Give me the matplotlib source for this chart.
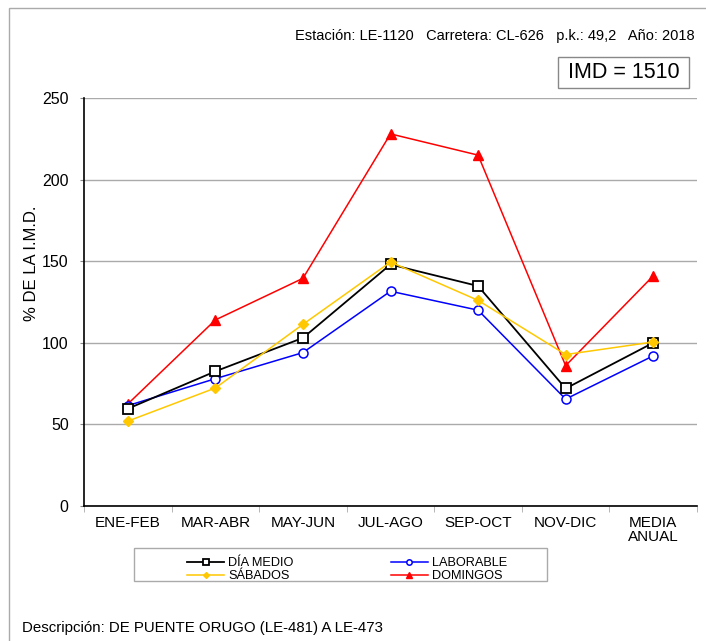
import matplotlib
matplotlib.use('Agg')
import matplotlib.pyplot as plt
from matplotlib.patches import Rectangle

plt.rcParams['font.family'] = ['Liberation Sans', 'DejaVu Sans']

categorias = ['ENE-FEB', 'MAR-ABR', 'MAY-JUN', 'JUL-AGO', 'SEP-OCT', 'NOV-DIC', 'MEDIA\nANUAL']
dia_medio = [59.6, 82.5, 103, 148, 134.8, 72, 100]
laborable = [61.5, 78, 94, 131.6, 120, 65.5, 92]
sabados = [52, 72.3, 111.3, 149.5, 126, 92.8, 100.5]
domingos = [62.5, 114, 139.5, 228, 215, 86, 141]

W, H = 706, 641
fig = plt.figure(figsize=(W / 100, H / 100), dpi=100)

# marco gris exterior
fig.patches.append(Rectangle((9 / W, -0.01), 1.0, 1 - 8 / H + 0.01, transform=fig.transFigure,
                             fill=False, ec='#aaaaaa', lw=1))

ax = fig.add_axes([84 / W, 1 - 506 / H, (697 - 84) / W, (506 - 98) / H])

x = list(range(len(categorias)))
l1, = ax.plot(x, dia_medio, color='black', marker='s', ms=6.5, mfc='white', mec='black', mew=1.3,
              lw=1.3, label='DÍA MEDIO', zorder=4)
l2, = ax.plot(x, laborable, color='blue', marker='o', ms=6.5, mfc='white', mec='blue', mew=1.1,
              lw=1.1, label='LABORABLE', zorder=3)
l3, = ax.plot(x, sabados, color='#FFC800', marker='D', ms=5, mfc='#FFC800', mec='#FFC800', lw=1.1,
              label='SÁBADOS', zorder=5)
l4, = ax.plot(x, domingos, color='red', marker='^', ms=7.5, mfc='red', mec='red', lw=1.1,
              label='DOMINGOS', zorder=2)

ax.set_xlim(-0.5, len(categorias) - 0.5)
ax.set_ylim(0, 250)
ax.set_yticks([0, 50, 100, 150, 200, 250])
ax.set_xticks(x)
ax.set_xticklabels(categorias, fontsize=11, linespacing=1.0)
ax.set_xticks([i - 0.5 for i in range(len(categorias) + 1)], minor=True)
ax.tick_params(axis='x', which='major', length=0, pad=7.5)
ax.tick_params(axis='x', which='minor', length=4, color='#aaaaaa')
ax.tick_params(axis='y', labelsize=11.5, length=3, pad=8, color='#888888')
ax.grid(axis='y', color='#aaaaaa', lw=1)
ax.set_axisbelow(True)
for s in ['top', 'right']:
    ax.spines[s].set_visible(False)
ax.spines['left'].set_linewidth(1.2)
ax.spines['bottom'].set_linewidth(1.2)

fig.text(31 / W, 1 - 263 / H, '% DE LA I.M.D.', rotation=90, ha='center', va='center', fontsize=12)

# leyenda
fig.patches.append(Rectangle((134 / W, 1 - 581 / H), (547 - 134) / W, 33 / H,
                             transform=fig.transFigure, fill=False, ec='#aaaaaa', lw=1))
leg = fig.legend([l1, l3, l2, l4], ['DÍA MEDIO', 'SÁBADOS', 'LABORABLE', 'DOMINGOS'],
                 loc='upper left', bbox_to_anchor=(181 / W, 1 - 551 / H), ncol=2, fontsize=9.2,
                 frameon=False, borderpad=0, labelspacing=0.08, handlelength=2.9,
                 handletextpad=0.3, columnspacing=7.6, markerscale=0.6)

fig.text(695 / W, 1 - 36 / H, 'Estación: LE-1120   Carretera: CL-626   p.k.: 49,2   Año: 2018',
         ha='right', va='center', fontsize=10.5)
fig.patches.append(Rectangle((558 / W, 1 - 88 / H), 131 / W, 31 / H, transform=fig.transFigure,
                             fc='white', ec='#888888', lw=1))
fig.text(624 / W, 1 - 73 / H, 'IMD = 1510', ha='center', va='center', fontsize=15.5)
fig.text(22 / W, 1 - 628 / H, 'Descripción: DE PUENTE ORUGO (LE-481) A LE-473', ha='left',
         va='center', fontsize=10.8)

fig.savefig('out.png', dpi=100)
